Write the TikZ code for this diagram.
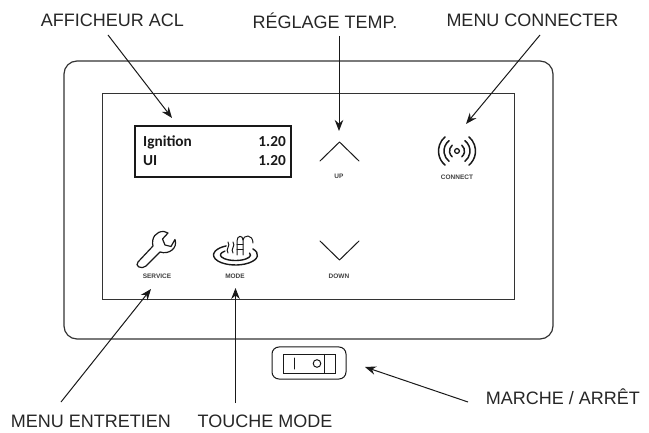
\documentclass[tikz,border=0pt]{standalone}
\usepackage{fontspec}
\setmainfont{Liberation Sans}
\newfontfamily\lcd{Carlito}
\newfontfamily\lab{Liberation Sans}
\usetikzlibrary{arrows.meta}
\tikzset{
  x=1pt,y=-1pt,
  callout/.style={font=\fontsize{18}{20}\selectfont,text=black!85,inner sep=0pt,anchor=center},
  tiny/.style={font=\lab\bfseries\fontsize{6.5}{7}\selectfont,text=black!75,inner sep=0pt},
  lead/.style={draw=black!90,line width=1pt,-{Stealth[length=11pt,width=8.5pt]}},
  panel/.style={draw=black!80,line width=0.8pt},
  icon/.style={draw=black!90,line width=1pt,line cap=round,line join=round},
  lcdtext/.style={font=\lcd\bfseries\fontsize{15.3}{17}\selectfont,inner sep=0pt,text=black!90},
}
\begin{document}
\begin{tikzpicture}
\useasboundingbox (0,0) rectangle (649,433);
% housing
\node[panel,rounded corners=13pt,minimum width=489pt,minimum height=278pt,inner sep=0pt,line width=1.2pt] (housing) at (308.5,200) {};
\node[panel,minimum width=412pt,minimum height=206pt,inner sep=0pt,line width=0.7pt] (face) at (308,196) {};
% LCD
\node[draw=black!90,line width=1.7pt,minimum width=156pt,minimum height=51pt,inner sep=0pt] (lcd) at (213,151.5) {};
\node[lcdtext,anchor=west] (l1) at (143,142) {Ignition};
\node[lcdtext,anchor=west] (l2) at (143,161) {UI};
\node[lcdtext,anchor=east] (v1) at (286,142) {1.20};
\node[lcdtext,anchor=east] (v2) at (286,161) {1.20};
% up/down
\draw[icon] (320,161) -- (339.5,142) -- (359,161);
\node[tiny] (up) at (339,176) {UP};
\draw[icon] (320,241) -- (339.5,260) -- (359,241);
\node[tiny] (down) at (339,276) {DOWN};
% connect
\coordinate (wc) at (457,151);
\draw[icon,line width=1.3pt] (wc) circle (2.4pt);
\foreach \r/\a in {7.5/50,13/52,18.5/50}{
  \draw[icon,line width=1.5pt] (wc) ++(\a:\r pt) arc[start angle=\a,end angle=-\a,radius=\r pt];
  \draw[icon,line width=1.5pt] (wc) ++(180-\a:\r pt) arc[start angle=180-\a,end angle=180+\a,radius=\r pt];
}
\node[tiny] (connect) at (457,177) {CONNECT};
% wrench
\draw[icon,line width=1.2pt] (138,262) -- (153,246) .. controls (151,238) and (156,231) .. (164,231.5)
 -- (168,233) -- (162.5,239) -- (165,245) -- (171,246.5) -- (175,239.5)
 .. controls (178,248) and (169,255) .. (160,252) -- (146,266)
 .. controls (142,270) and (134,266) .. (138,262) -- cycle;
\node[tiny] (service) at (157,276) {SERVICE};
% mode icon
\coordinate (mc) at (235.5,255);
\draw[icon,line width=1.4pt] (mc) ++(38:22pt and 10pt) arc[start angle=38,end angle=-245,x radius=22pt,y radius=10pt];
\draw[icon,line width=1.4pt] (mc) ++(20:15pt and 5.5pt) arc[start angle=20,end angle=-225,x radius=15pt,y radius=5.5pt];
\draw[icon] (237,255) -- (237,241) .. controls (237,235) and (243,235) .. (243,240);
\draw[icon] (243,255) -- (243,241) .. controls (243,234) and (253,234) .. (253,243);
\draw[icon] (237,245) -- (243,245) (237,250) -- (243,250);
\draw[icon] (228,253) .. controls (225,249) and (231,246) .. (228,242);
\draw[icon] (233,253) .. controls (230,249) and (236,246) .. (233,242);
\node[tiny] (mode) at (235,276) {MODE};
% switch
\node[draw=black!90,rounded corners=7pt,line width=1pt,minimum width=74pt,minimum height=32pt,inner sep=0pt] (swouter) at (309,363) {};
\node[draw=black!90,line width=0.9pt,minimum width=52pt,minimum height=19pt,inner sep=0pt] (swinner) at (309,363.5) {};
\draw[icon,line width=1pt] (294,358) -- (294,369);
\draw[icon,line width=1pt] (317,363.5) circle (3.8pt);
\draw[line width=1.6pt,draw=black!90] (324.5,354) -- (324.5,373);
% callouts
\node[callout] (t1) at (112.5,20.5) {AFFICHEUR ACL};
\node[callout] (t2) at (325,20.5) {RÉGLAGE TEMP.};
\node[callout] (t3) at (532.5,20.5) {MENU CONNECTER};
\node[callout] (t4) at (563,397) {MARCHE / ARRÊT};
\node[callout] (t5) at (91,421) {MENU ENTRETIEN};
\node[callout] (t6) at (265,421) {TOUCHE MODE};
\coordinate (a1s) at (108,35); \coordinate (a1e) at (172,118);
\coordinate (a2s) at (339,36); \coordinate (a2e) at (339,131);
\coordinate (a3s) at (540,35); \coordinate (a3e) at (466,124);
\coordinate (a4s) at (468,402); \coordinate (a4e) at (365,367);
\coordinate (a5s) at (61,402); \coordinate (a5e) at (151,289);
\coordinate (a6s) at (235.5,403); \coordinate (a6e) at (235.5,288);
\draw[lead] (a1s) -- (a1e);
\draw[lead] (a2s) -- (a2e);
\draw[lead] (a3s) -- (a3e);
\draw[lead] (a4s) -- (a4e);
\draw[lead] (a5s) -- (a5e);
\draw[lead] (a6s) -- (a6e);
\end{tikzpicture}
\end{document}
